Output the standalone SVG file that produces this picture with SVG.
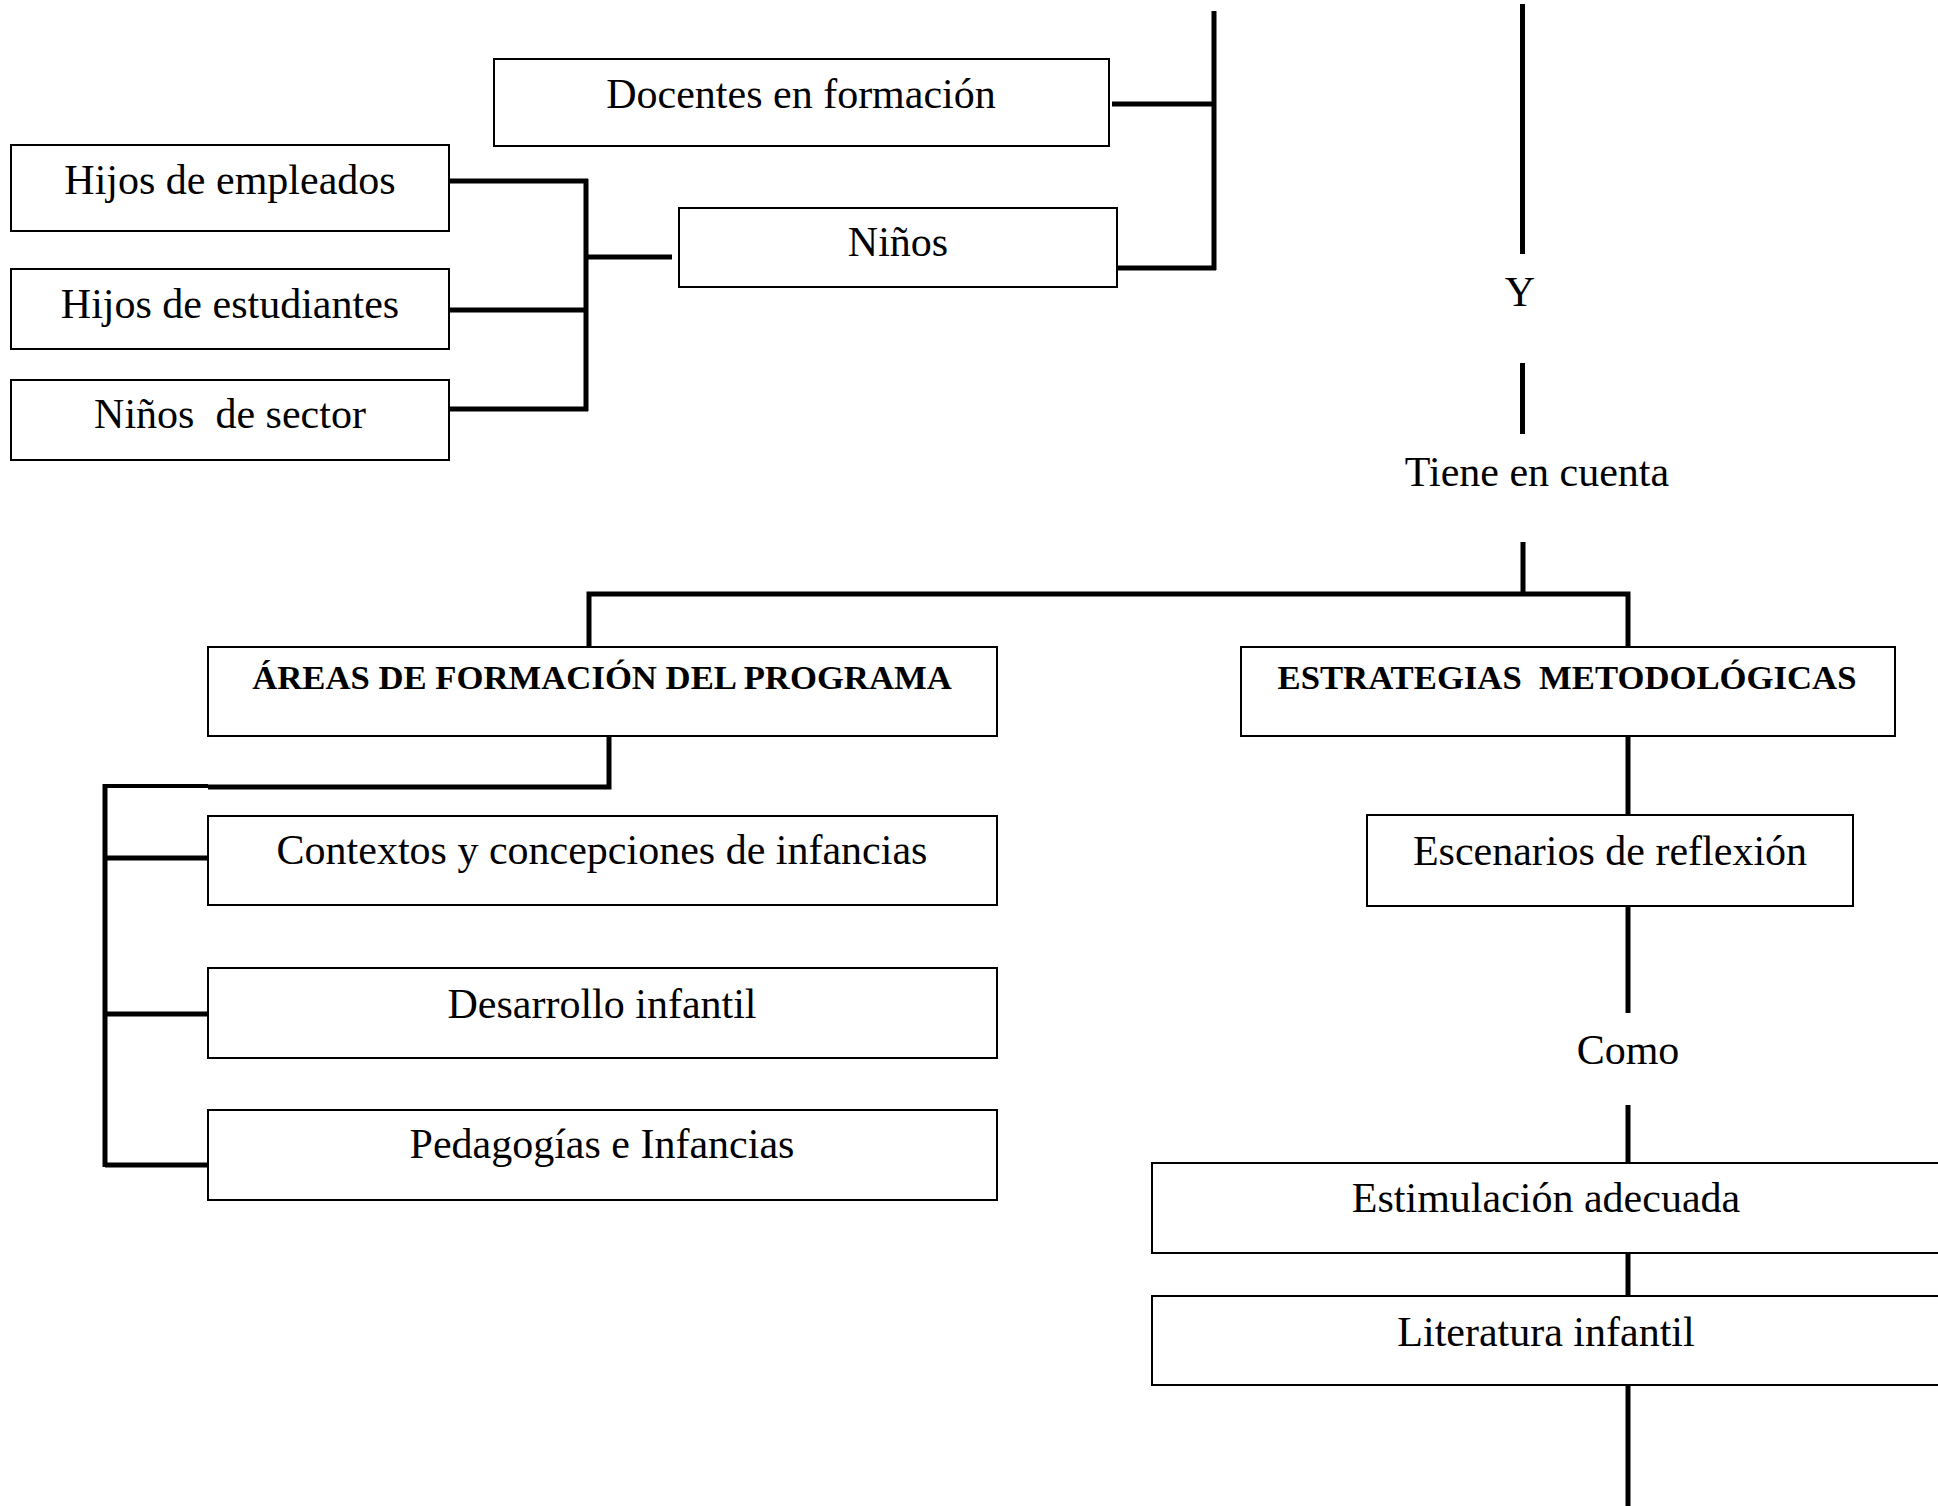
<svg xmlns="http://www.w3.org/2000/svg" width="1938" height="1506" viewBox="0 0 1938 1506">
<style>
  .box { fill: #fff; stroke: #000; stroke-width: 2; }
  .t { font-family: "Liberation Serif", "Times New Roman", serif; font-size: 42px; fill: #000; text-anchor: middle; white-space: pre; }
  .b { font-family: "Liberation Serif", "Times New Roman", serif; font-size: 34.7px; font-weight: bold; fill: #000; text-anchor: middle; white-space: pre; }
  .c { fill: none; stroke: #000; stroke-width: 5; }
  .c2 { fill: none; stroke: #000; stroke-width: 4; }
</style>
<rect x="0" y="0" width="1938" height="1506" fill="#fff"/>
<g id="connectors">
  <line class="c" x1="1112" y1="104" x2="1214" y2="104"/>
  <line class="c" x1="1113" y1="268" x2="1216" y2="268"/>
  <line class="c" x1="1214" y1="11" x2="1214" y2="270"/>
  <line class="c" x1="450" y1="181" x2="588" y2="181"/>
  <line class="c" x1="450" y1="310" x2="586" y2="310"/>
  <line class="c" x1="450" y1="409" x2="588" y2="409"/>
  <line class="c" x1="586" y1="179" x2="586" y2="411"/>
  <line class="c" x1="586" y1="257" x2="672" y2="257"/>
  <line class="c" x1="1522.5" y1="4" x2="1522.5" y2="254"/>
  <line class="c" x1="1522.5" y1="363" x2="1522.5" y2="434"/>
  <line class="c" x1="1523" y1="542" x2="1523" y2="594"/>
  <polyline class="c" points="589,647 589,594 1628,594 1628,647"/>
  <line class="c" x1="1628" y1="736" x2="1628" y2="815"/>
  <line class="c" x1="1628" y1="906" x2="1628" y2="1013"/>
  <line class="c" x1="1628" y1="1105" x2="1628" y2="1163"/>
  <line class="c" x1="1628" y1="1253" x2="1628" y2="1296"/>
  <line class="c" x1="1628" y1="1385" x2="1628" y2="1506"/>
  <polyline class="c" points="609,736 609,787 208,787"/>
  <line class="c2" x1="105" y1="786" x2="208" y2="786"/>
  <line class="c" x1="105" y1="784" x2="105" y2="1167"/>
  <line class="c" x1="105" y1="858" x2="208" y2="858"/>
  <line class="c" x1="105" y1="1014" x2="208" y2="1014"/>
  <line class="c" x1="105" y1="1165" x2="208" y2="1165"/>
</g>
<g id="docentes">
  <rect class="box" x="494" y="59" width="615" height="87"/>
  <text class="t" x="801" y="108">Docentes en formación</text>
</g>
<g id="ninos">
  <rect class="box" x="679" y="208" width="438" height="79"/>
  <text class="t" x="898" y="256">Niños</text>
</g>
<g id="hijos-empleados">
  <rect class="box" x="11" y="145" width="438" height="86"/>
  <text class="t" x="230" y="194">Hijos de empleados</text>
</g>
<g id="hijos-estudiantes">
  <rect class="box" x="11" y="269" width="438" height="80"/>
  <text class="t" x="230" y="318">Hijos de estudiantes</text>
</g>
<g id="ninos-sector">
  <rect class="box" x="11" y="380" width="438" height="80"/>
  <text class="t" x="230" y="428">Niños  de sector</text>
</g>
<g id="label-y">
  <text class="t" x="1520" y="306">Y</text>
</g>
<g id="label-tiene">
  <text class="t" x="1537" y="486">Tiene en cuenta</text>
</g>
<g id="areas">
  <rect class="box" x="208" y="647" width="789" height="89"/>
  <text class="b" x="602" y="689">ÁREAS DE FORMACIÓN DEL PROGRAMA</text>
</g>
<g id="contextos">
  <rect class="box" x="208" y="816" width="789" height="89"/>
  <text class="t" x="602" y="864">Contextos y concepciones de infancias</text>
</g>
<g id="desarrollo">
  <rect class="box" x="208" y="968" width="789" height="90"/>
  <text class="t" x="602" y="1018">Desarrollo infantil</text>
</g>
<g id="pedagogias">
  <rect class="box" x="208" y="1110" width="789" height="90"/>
  <text class="t" x="602" y="1158">Pedagogías e Infancias</text>
</g>
<g id="estrategias">
  <rect class="box" x="1241" y="647" width="654" height="89"/>
  <text class="b" x="1567" y="689">ESTRATEGIAS  METODOLÓGICAS</text>
</g>
<g id="escenarios">
  <rect class="box" x="1367" y="815" width="486" height="91"/>
  <text class="t" x="1610" y="865">Escenarios de reflexión</text>
</g>
<g id="label-como">
  <text class="t" x="1628" y="1064">Como</text>
</g>
<g id="estimulacion">
  <rect class="box" x="1152" y="1163" width="790" height="90"/>
  <text class="t" x="1546" y="1212">Estimulación adecuada</text>
</g>
<g id="literatura">
  <rect class="box" x="1152" y="1296" width="790" height="89"/>
  <text class="t" x="1546" y="1346">Literatura infantil</text>
</g>
</svg>
